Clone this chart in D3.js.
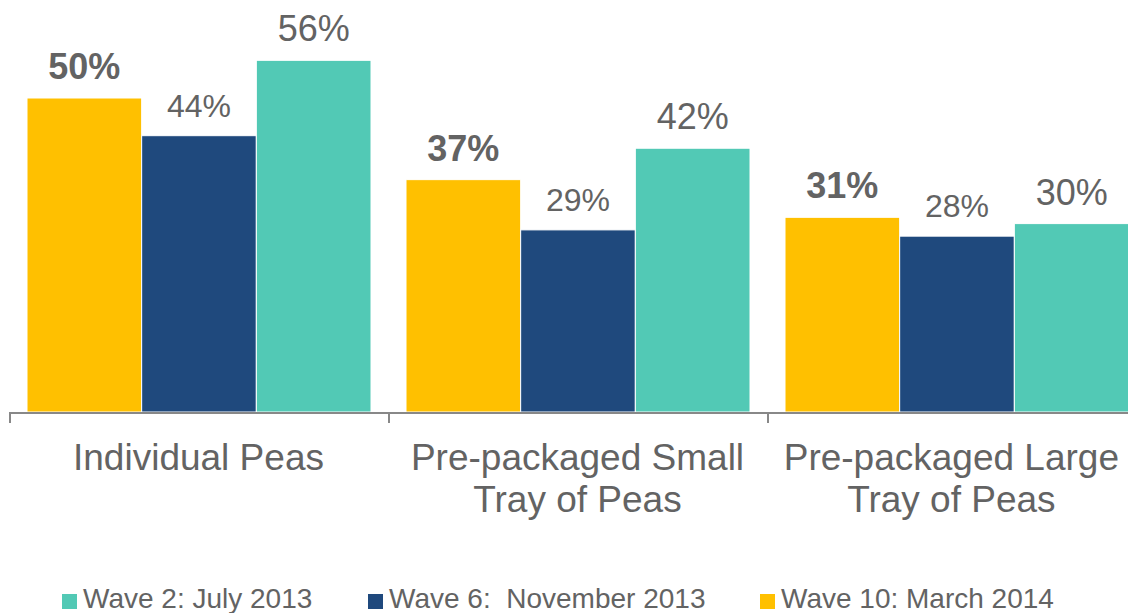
<!DOCTYPE html>
<html>
<head>
<meta charset="utf-8">
<script src="https://cdn.jsdelivr.net/npm/d3@7"></script>
<style>
  html, body { margin: 0; padding: 0; background: #fff; }
  svg { display: block; font-family: "Liberation Sans", Arial, sans-serif; }
  text { white-space: pre; }
</style>
</head>
<body>
<svg id="chart" width="1128" height="613"></svg>
<script>
// Share of respondents choosing each pea format, by survey wave
const categories = [["Individual Peas"], ["Pre-packaged Small", "Tray of Peas"], ["Pre-packaged Large", "Tray of Peas"]];
const categoryKeys = ["Individual Peas", "Pre-packaged Small Tray of Peas", "Pre-packaged Large Tray of Peas"];
const seriesNames = ["Wave 10: March 2014", "Wave 6:  November 2013", "Wave 2: July 2013"];
const wave10 = [50, 37, 31];
const wave6 = [44, 29, 28];
const wave2 = [56, 42, 30];
const legendOrder = ["Wave 2: July 2013", "Wave 6:  November 2013", "Wave 10: March 2014"];

const seriesValues = [wave10, wave6, wave2];
const colors = { "Wave 10: March 2014": "#FFC000", "Wave 6:  November 2013": "#1F497D", "Wave 2: July 2013": "#52C9B5" };
const labelStyle = {
  "Wave 10: March 2014": { size: 36, weight: "bold" },
  "Wave 6:  November 2013": { size: 32, weight: "normal" },
  "Wave 2: July 2013": { size: 36, weight: "normal" }
};
const textColor = "#636363";
const W = 1128;

const svg = d3.select("#chart");
const baseY = 412;
const groupW = 379;
const x0 = 9;

const xGroup = d3.scaleBand().domain(categoryKeys).range([x0, x0 + groupW * categoryKeys.length]).padding(0);
const xSeries = d3.scaleBand().domain(seriesNames).range([18, 362]).padding(0);
const y = d3.scaleLinear().domain([0, 60]).range([baseY, baseY - 60 * 6.28]);

const rows = [];
categoryKeys.forEach((c, i) => {
  seriesNames.forEach((s, j) => rows.push({ cat: c, series: s, value: seriesValues[j][i] }));
});

// bars
svg.append("g").selectAll("rect").data(rows).join("rect")
  .attr("x", d => xGroup(d.cat) + xSeries(d.series))
  .attr("y", d => y(d.value))
  .attr("width", xSeries.bandwidth())
  .attr("height", d => baseY - y(d.value))
  .attr("fill", d => colors[d.series])
  .attr("stroke", "#fff")
  .attr("stroke-width", 1);

// value labels
svg.append("g").selectAll("text").data(rows).join("text")
  .attr("x", d => xGroup(d.cat) + xSeries(d.series) + xSeries.bandwidth() / 2)
  .attr("y", d => y(d.value) - 19)
  .attr("text-anchor", "middle")
  .attr("fill", textColor)
  .attr("font-size", d => labelStyle[d.series].size)
  .attr("font-weight", d => labelStyle[d.series].weight)
  .text(d => d.value + "%");

// category axis: baseline with ticks at group boundaries
const axis = svg.append("g");
axis.append("line")
  .attr("x1", xGroup.range()[0]).attr("x2", xGroup.range()[1])
  .attr("y1", baseY + 1).attr("y2", baseY + 1)
  .attr("stroke", "#888").attr("stroke-width", 2);
const boundaries = categoryKeys.map(c => xGroup(c)).concat([xGroup.range()[1]]);
axis.selectAll("line.tick").data(boundaries).join("line")
  .attr("class", "tick")
  .attr("x1", d => d + 1).attr("x2", d => d + 1)
  .attr("y1", baseY).attr("y2", baseY + 11)
  .attr("stroke", "#888").attr("stroke-width", 2);

// category labels, kept inside the visible width
axis.selectAll("text.cat").data(categoryKeys).join("text")
  .attr("class", "cat")
  .attr("y", 470)
  .attr("text-anchor", "middle")
  .attr("fill", textColor)
  .attr("font-size", 37)
  .each(function (d, i) {
    const t = d3.select(this);
    t.selectAll("tspan").data(categories[i]).join("tspan")
      .attr("dy", (s, k) => k === 0 ? 0 : 42)
      .text(s => s);
    let cx = xGroup(d) + xGroup.bandwidth() / 2;
    let maxW = 0;
    t.selectAll("tspan").each(function () { maxW = Math.max(maxW, this.getComputedTextLength()); });
    if (cx + maxW / 2 > W - 9) cx = W - 9 - maxW / 2;
    t.selectAll("tspan").attr("x", cx);
  });

// legend
const legendX = [62, 368, 760];
const legend = svg.append("g").selectAll("g").data(legendOrder).join("g")
  .attr("transform", (d, i) => `translate(${legendX[i]},0)`);
legend.append("rect")
  .attr("x", 0).attr("y", 594).attr("width", 15).attr("height", 15)
  .attr("fill", d => colors[d]);
legend.append("text")
  .attr("x", 21).attr("y", 608)
  .attr("fill", textColor)
  .attr("font-size", 28)
  .text(d => d);
</script>
</body>
</html>
